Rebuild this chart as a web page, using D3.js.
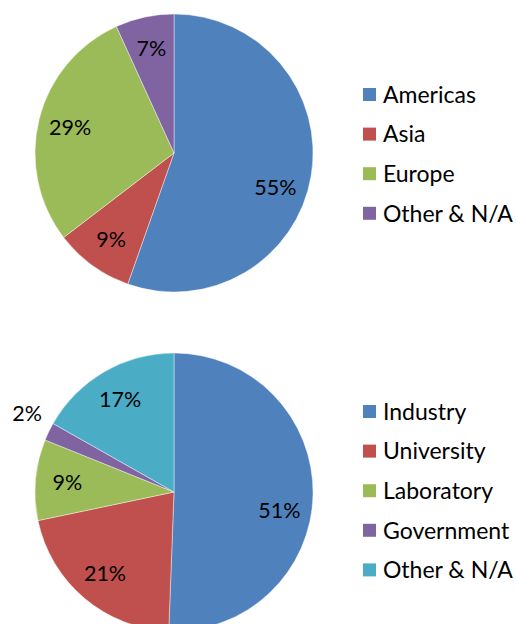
<!DOCTYPE html>
<html>
<head>
	<meta charset="utf-8">
	<title>Pies</title>
	<style type="text/css">
		html, body {
			margin: 0;
			padding: 0;
			background-color: #fff;
		}
		svg text {
			font-family: Lato, "Open Sans", sans-serif;
			fill: #000;
		}
	</style>
</head>
<body>
	<svg id="chart" width="516" height="624"></svg>
	<script src="https://unpkg.com/d3@7.0.1/dist/d3.min.js"></script>
	<script type="text/javascript">
		// top pie: region
		const regionNames = ['Americas', 'Asia', 'Europe', 'Other & N/A'];
		const regionValues = [55.4, 9.2, 28.6, 6.8];

		// bottom pie: affiliation
		const sectorNames = ['Industry', 'University', 'Laboratory', 'Government', 'Other & N/A'];
		const sectorValues = [50.6, 21.1, 9.4, 2.1, 16.8];

		const palette = ['#4f81bd', '#c0504d', '#9bbb59', '#8064a2', '#4bacc6'];

		const svg = d3.select('#chart');
		const radius = 139;

		function drawPie(names, values, cx, cy, legendTop) {
			const color = d3.scaleOrdinal().domain(names).range(palette);
			const total = d3.sum(values);

			const pie = d3.pie()
				.sort(null)
				.value(d => d.value);

			const arcs = pie(names.map((n, i) => ({ name: n, value: values[i] })));

			const arc = d3.arc()
				.innerRadius(0)
				.outerRadius(radius);

			const g = svg.append('g')
				.attr('transform', `translate(${cx},${cy})`);

			g.selectAll('path')
				.data(arcs)
				.enter()
				.append('path')
				.attr('d', arc)
				.attr('fill', d => color(d.data.name))
				.attr('stroke', 'rgba(255,255,255,0.6)')
				.attr('stroke-width', 0.7);

			// label placement, roughly like excel's "best fit"
			g.selectAll('text.pct')
				.data(arcs)
				.enter()
				.append('text')
				.attr('class', 'pct')
				.attr('text-anchor', 'middle')
				.attr('dy', '0.35em')
				.style('font-size', '21.5px')
				.attr('transform', d => {
					const share = d.data.value / total;
					let a = (d.startAngle + d.endAngle) / 2;
					let r = radius * 0.77;
					if (share > 0.5) a += 9 * Math.PI / 180;
					if (share < 0.04) {
						r = radius * 1.2;
						a += 2.5 * Math.PI / 180;
					}
					return `translate(${Math.sin(a) * r},${-Math.cos(a) * r})`;
				})
				.text(d => Math.round(d.data.value / total * 100) + '%');

			const step = 39.6;
			const legend = svg.append('g')
				.attr('transform', `translate(363,${legendTop})`);

			const item = legend.selectAll('g')
				.data(names)
				.enter()
				.append('g')
				.attr('transform', (d, i) => `translate(0,${i * step})`);

			item.append('rect')
				.attr('x', 0)
				.attr('y', -6.5)
				.attr('width', 13)
				.attr('height', 13)
				.attr('fill', d => color(d));

			item.append('text')
				.attr('x', 20)
				.attr('dy', '0.36em')
				.style('font-size', '23px')
				.text(d => d);
		}

		drawPie(regionNames, regionValues, 174, 153, 94.5);
		drawPie(sectorNames, sectorValues, 174, 492, 411.5);
	</script>
</body>
</html>
